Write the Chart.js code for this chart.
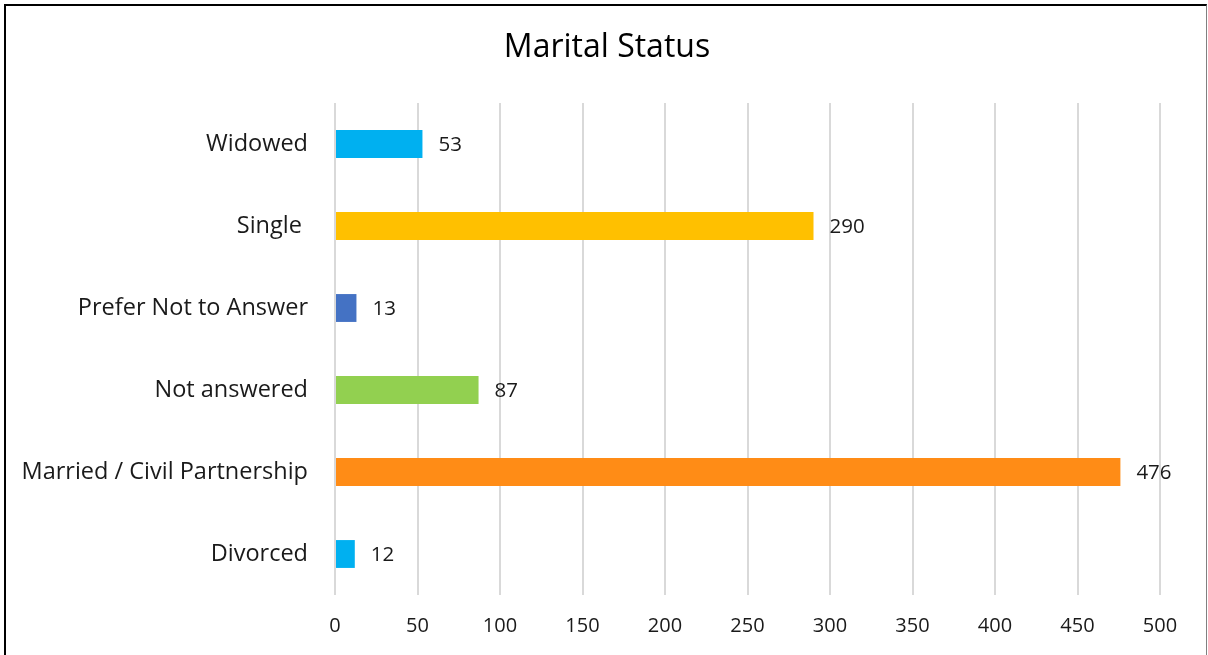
<!DOCTYPE html>
<html>
<head>
<meta charset="utf-8">
<script src="https://cdn.jsdelivr.net/npm/chart.js@4/dist/chart.umd.min.js"></script>
<style>
  html, body { margin: 0; padding: 0; background: #fff; }
  #wrap { position: relative; width: 1208px; height: 655px; }
  #frame {
    position: absolute; left: 4px; top: 4px; width: 1200px; height: 700px;
    border-left: 2px solid #000; border-top: 2px solid #000; border-right: 1px solid #808080;
    pointer-events: none;
  }
</style>
</head>
<body>
<div id="wrap">
  <canvas id="chart" width="1208" height="655"></canvas>
  <div id="frame"></div>
</div>
<script>
// ------------------------------------------------------------
// DATEN
// ------------------------------------------------------------
const chartTitle = "Marital Status";
const categories = [
  "Widowed",
  "Single ",
  "Prefer Not to Answer",
  "Not answered",
  "Married / Civil Partnership",
  "Divorced"
];
const counts = [53, 290, 13, 87, 476, 12];
const barColors = ["#00B0F0", "#FFC000", "#4472C4", "#92D050", "#FF8C16", "#00B0F0"];
const xTicks = [0, 50, 100, 150, 200, 250, 300, 350, 400, 450, 500];

const FONT = "'Open Sans', sans-serif";

// ------------------------------------------------------------
// Titel mittig über dem ganzen Bild (nicht über der Plotfläche)
// ------------------------------------------------------------
const pageTitle = {
  id: "pageTitle",
  afterDraw(c) {
    const ctx = c.ctx;
    ctx.save();
    ctx.font = "32px " + FONT;
    ctx.fillStyle = "#000";
    ctx.textAlign = "center";
    ctx.textBaseline = "middle";
    ctx.fillText(chartTitle, c.width / 2 + 3, 48);
    ctx.restore();
  }
};

// ------------------------------------------------------------
// Werte rechts neben den Balken
// ------------------------------------------------------------
const valueLabels = {
  id: "valueLabels",
  afterDatasetsDraw(c) {
    const ctx = c.ctx;
    const meta = c.getDatasetMeta(0);
    ctx.save();
    ctx.font = "20.5px " + FONT;
    ctx.fillStyle = "#1a1a1a";
    ctx.textAlign = "left";
    ctx.textBaseline = "middle";
    meta.data.forEach((bar, i) => {
      ctx.fillText(String(counts[i]), bar.x + 16, bar.y + 1);
    });
    ctx.restore();
  }
};

new Chart(document.getElementById("chart"), {
  type: "bar",
  data: {
    labels: categories,
    datasets: [{
      data: counts,
      backgroundColor: barColors,
      borderWidth: 0,
      categoryPercentage: 1,
      barPercentage: 0.34
    }]
  },
  plugins: [valueLabels, pageTitle],
  options: {
    indexAxis: "y",
    responsive: false,
    animation: false,
    layout: { padding: { left: 0, right: 48, top: 103, bottom: 0 } },
    plugins: {
      legend: { display: false },
      tooltip: { enabled: false },
      title: { display: false }
    },
    scales: {
      x: {
        min: 0,
        max: 500,
        afterBuildTicks: s => { s.ticks = xTicks.map(v => ({ value: v })); },
        afterFit: s => { s.height = 60; },
        border: { display: false },
        grid: { color: "#D9D9D9", lineWidth: 2, drawTicks: false },
        ticks: {
          color: "#1a1a1a",
          padding: 19,
          font: { family: FONT, size: 20 }
        }
      },
      y: {
        afterFit: s => { s.width = 335; },
        border: { display: false },
        grid: { display: false },
        ticks: {
          color: "#1a1a1a",
          padding: 19,
          font: { family: FONT, size: 23.5 }
        }
      }
    }
  }
});
</script>
</body>
</html>
